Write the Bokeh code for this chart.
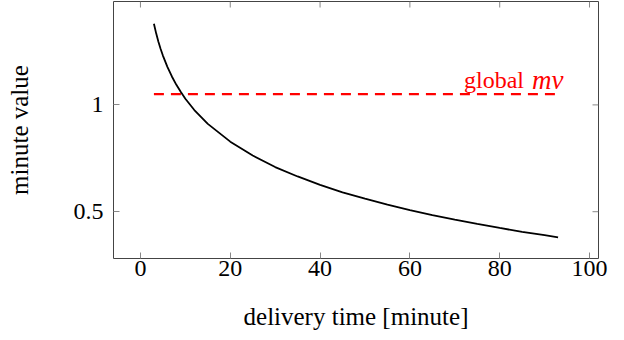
from bokeh.plotting import figure
from bokeh.models import Range1d, FixedTicker
from bokeh.core.properties import value
from bokeh.embed import file_html
from bokeh.resources import INLINE

# data
delivery_time = [3, 3.5, 4, 4.5, 5, 6, 7, 8, 9, 10, 12, 15, 20, 25, 30, 35, 40,
                 45, 50, 55, 60, 65, 70, 75, 80, 85, 90, 93]
minute_value = [1.380, 1.335, 1.296, 1.262, 1.231, 1.178, 1.133, 1.094, 1.060,
                1.029, 0.976, 0.911, 0.828, 0.763, 0.709, 0.665, 0.626, 0.591,
                0.561, 0.533, 0.508, 0.484, 0.463, 0.443, 0.424, 0.406, 0.390,
                0.380]
global_x = [3, 93]
global_mv = [1.05, 1.05]
x_ticks = [0, 20, 40, 60, 80, 100]
y_ticks = [0.5, 1]
y_tick_labels = {0.5: "0.5", 1: "1"}
label_word = "global"
label_math = "mv"

FONT = "Liberation Serif"
FS = "24px"

X0, X1 = -6, 102
Y0, Y1 = 0.281, 1.484
W, H = 624, 340
BL, BR, BT, BB = 113, 26, 1, 82
TICK_PX = 6

p = figure(width=W, height=H, output_backend="svg", toolbar_location=None,
           x_range=Range1d(X0, X1), y_range=Range1d(Y0, Y1),
           min_border_left=BL, min_border_right=BR, min_border_top=BT,
           min_border_bottom=BB)
p.xgrid.visible = False
p.ygrid.visible = False
p.outline_line_color = "#444444"
p.outline_line_width = 1
p.background_fill_color = "white"
p.border_fill_color = "white"

TICK_COLOR = "#888888"
for ax in (p.xaxis[0], p.yaxis[0]):
    ax.major_tick_in = TICK_PX
    ax.major_tick_out = 0
    ax.minor_tick_in = 0
    ax.minor_tick_out = 0
    ax.axis_line_color = None
    ax.major_tick_line_color = TICK_COLOR
    ax.major_tick_line_width = 1
    ax.major_label_text_font = FONT
    ax.major_label_text_font_size = FS
    ax.major_label_text_color = "black"
    ax.axis_label_text_font = FONT
    ax.axis_label_text_font_size = "25px"
    ax.axis_label_text_font_style = "normal"
    ax.axis_label_text_color = "black"

p.xaxis[0].ticker = FixedTicker(ticks=x_ticks)
p.yaxis[0].ticker = FixedTicker(ticks=y_ticks)
p.yaxis[0].major_label_overrides = y_tick_labels
p.xaxis[0].axis_label = "delivery time [minute]"
p.yaxis[0].axis_label = "minute value"
p.xaxis[0].major_label_standoff = 2
p.xaxis[0].axis_label_standoff = 24
p.yaxis[0].major_label_standoff = 10
p.yaxis[0].axis_label_standoff = 38

# mirrored ticks on the top and right edges
dy = (Y1 - Y0) / (H - BT - BB) * TICK_PX
dx = (X1 - X0) / (W - BL - BR) * TICK_PX
p.segment(x0=x_ticks, y0=[Y1] * len(x_ticks), x1=x_ticks,
          y1=[Y1 - dy] * len(x_ticks), line_color=TICK_COLOR, line_width=1)
p.segment(x0=[X1] * len(y_ticks), y0=y_ticks, x1=[X1 - dx] * len(y_ticks),
          y1=y_ticks, line_color=TICK_COLOR, line_width=1)

p.line(global_x, global_mv, line_color="#ff0000", line_width=2.2, line_dash="10 7")
p.line(delivery_time, minute_value, line_color="black", line_width=1.8)

p.text(x=[85.4], y=[1.115], text=[label_word], text_align="right",
       text_baseline="alphabetic", text_color="#ff0000",
       text_font=value(FONT), text_font_size=FS)
p.text(x=[87.2], y=[1.115], text=[label_math], text_align="left",
       text_baseline="alphabetic", text_color="#ff0000",
       text_font=value(FONT), text_font_size="27px", text_font_style="italic")

open("out.html", "w").write(file_html(p, INLINE))
